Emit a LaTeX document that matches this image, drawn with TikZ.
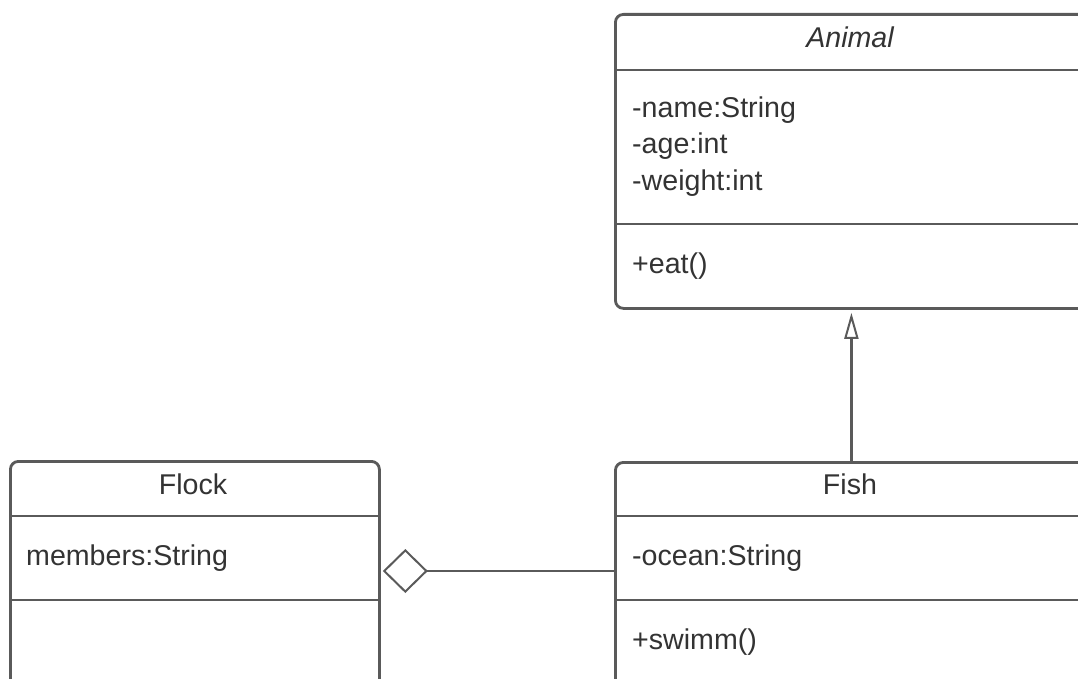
\documentclass[tikz,border=0pt]{standalone}
\usepackage{fontspec}
\setmainfont{Liberation Sans}
\usetikzlibrary{arrows.meta}
\definecolor{umlline}{HTML}{5A5A5A}
\definecolor{umltext}{HTML}{333333}
\tikzset{
  classbox/.style={draw=umlline,line width=2.8pt,rounded corners=8pt,rectangle,inner sep=0pt,fill=white,anchor=north west},
  member/.style={anchor=base west,inner sep=0pt,text=umltext,font=\fontsize{28.6}{36}\selectfont},
  classname/.style={anchor=base,inner sep=0pt,text=umltext,font=\fontsize{28.6}{36}\selectfont},
  divider/.style={draw=umlline,line width=2.8pt},
  assoc/.style={draw=umlline,line width=2.6pt},
}

\begin{document}
\begin{tikzpicture}[x=1pt,y=-1pt]
\useasboundingbox (0,0) rectangle (1078,679);
\clip (0,0) rectangle (1078,679);
% class boxes
\node[classbox,minimum width=472pt,minimum height=294pt] (animal) at (614,13) {};
\node[classbox,minimum width=472pt,minimum height=260pt] (fish) at (614,461) {};
\node[classbox,minimum width=369pt,minimum height=260pt] (flock) at (9,460) {};
% compartments
\draw[divider] (animal.west |- 0,70) -- (animal.east |- 0,70);
\draw[divider] (animal.west |- 0,224) -- (animal.east |- 0,224);
\draw[divider] (fish.west |- 0,516) -- (fish.east |- 0,516);
\draw[divider] (fish.west |- 0,600) -- (fish.east |- 0,600);
\draw[divider] (flock.west |- 0,516) -- (flock.east |- 0,516);
\draw[divider] (flock.west |- 0,600) -- (flock.east |- 0,600);
% Animal
\node[classname] (animalname) at (850,48) {\itshape Animal};
\node[member] (animalname1) at (632,118) {-name:String};
\node[member] (animalage) at (632,154) {-age:int};
\node[member] (animalweight) at (632,190) {-weight:int};
\node[member] (animaleat) at (632,273) {+eat()};
% Fish
\node[classname] (fishname) at (850,494) {Fish};
\node[member] (fishocean) at (632,565) {-ocean:String};
\node[member] (fishswimm) at (632,649) {+swimm()};
% Flock
\node[classname] (flockname) at (193,494) {Flock};
\node[member] (flockmembers) at (26,565) {members:String};
% relations
\draw[assoc,-{Triangle[open,length=26pt,width=14pt,line width=2pt]},shorten >=3pt] (fish.north) -- (animal.south);
\draw[assoc,-{Diamond[open,length=45pt,width=44pt,line width=2pt]},shorten >=2pt] (fish.west |- 0,571) -- (flock.east |- 0,571);
\end{tikzpicture}
\end{document}
